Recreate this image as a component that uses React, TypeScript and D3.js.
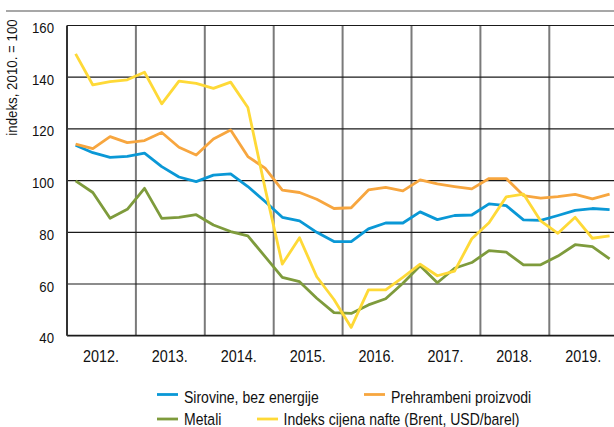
import React from "react";
import { scaleLinear, scaleBand, line } from "d3";

const years = ["2012.", "2013.", "2014.", "2015.", "2016.", "2017.", "2018.", "2019."];
const yTicks = [40, 60, 80, 100, 120, 140, 160];

// quarterly index values, 2012 Q1 .. 2019 Q4
const sirovine = [
  113.7, 110.8, 109.0, 109.4, 110.6, 105.4, 101.4, 99.6,
  102.1, 102.6, 97.7, 91.9, 85.8, 84.4, 80.0, 76.4,
  76.4, 81.3, 83.6, 83.6, 87.9, 84.9, 86.5, 86.7,
  91.0, 90.3, 84.8, 84.6, 86.5, 88.5, 89.2, 88.8,
];
const prehrambeni = [
  114.1, 112.4, 117.0, 114.7, 115.5, 118.6, 112.9, 109.9,
  116.1, 119.6, 109.3, 104.8, 96.3, 95.4, 92.8, 89.2,
  89.5, 96.4, 97.4, 96.0, 100.3, 98.7, 97.7, 96.8,
  100.8, 100.8, 94.2, 93.2, 93.8, 94.7, 92.9, 94.8,
];
const metali = [
  99.9, 95.4, 85.4, 88.9, 97.0, 85.4, 85.8, 86.8,
  82.8, 80.3, 78.6, 70.6, 62.6, 60.9, 54.5, 48.9,
  48.6, 51.9, 54.3, 60.3, 67.1, 60.5, 66.1, 68.3,
  72.9, 72.3, 67.4, 67.4, 70.8, 75.2, 74.5, 69.7,
];
const nafta = [
  149.0, 137.0, 138.3, 139.0, 141.9, 129.7, 138.5, 137.6,
  135.7, 138.1, 128.3, 97.0, 67.7, 77.9, 62.8, 54.0,
  43.2, 57.7, 57.7, 62.6, 67.7, 63.2, 65.0, 77.5,
  83.7, 93.7, 94.8, 84.4, 79.6, 85.8, 77.7, 78.6,
];

const series = [
  { name: "Sirovine, bez energije", values: sirovine, color: "#0a98d6" },
  { name: "Prehrambeni proizvodi", values: prehrambeni, color: "#f7a63f" },
  { name: "Metali", values: metali, color: "#7e9b3c" },
  { name: "Indeks cijena nafte (Brent, USD/barel)", values: nafta, color: "#fed937" },
];

const W = 614;
const H = 427;
const left = 67;
const right = 618.2;
const top = 25.5;
const bottom = 335.7;

// condensed-looking text: regular sans squeezed horizontally
function NText(props: {
  x: number;
  y: number;
  size: number;
  sx: number;
  anchor?: string;
  rotate?: number;
  children: React.ReactNode;
}) {
  const { x, y, size, sx, anchor, rotate, children } = props;
  return (
    <text
      transform={`translate(${x},${y})${rotate ? ` rotate(${rotate})` : ""} scale(${sx},1)`}
      fontSize={size}
      textAnchor={anchor ?? "start"}
      fill="#111"
    >
      {children}
    </text>
  );
}

export default function App() {
  const x = scaleLinear().domain([0, 32]).range([left, right]);
  const xBand = scaleBand().domain(years).range([left, right]);
  const y = scaleLinear().domain([40, 160]).range([bottom, top]);

  const path = line<number>()
    .x((_, i) => x(i + 0.5))
    .y((d) => y(d));

  const legend = [
    { s: series[0], lx: 157, ly: 394.5, tx: 184, ty: 402.5 },
    { s: series[1], lx: 364, ly: 394.5, tx: 391, ty: 402.5 },
    { s: series[2], lx: 157, ly: 419, tx: 184, ty: 424.5 },
    { s: series[3], lx: 257, ly: 419, tx: 283.5, ty: 424.5 },
  ];

  return (
    <svg
      width={W}
      height={H}
      style={{ position: "absolute", left: 0, top: 0, background: "#fff" }}
      fontFamily="'Liberation Sans', Arial, sans-serif"
    >
      <line x1={6} x2={W} y1={11} y2={11} stroke="#8a8a8a" strokeWidth={1.5} />

      {/* vertical year gridlines */}
      {years.slice(1).map((yr) => (
        <line
          key={yr}
          x1={xBand(yr)}
          x2={xBand(yr)}
          y1={top}
          y2={bottom}
          stroke="#7a7a7a"
          strokeWidth={2}
        />
      ))}

      {/* horizontal gridlines */}
      {yTicks.map((t) => (
        <line
          key={t}
          x1={left}
          x2={W}
          y1={y(t)}
          y2={y(t)}
          stroke="#1a1a1a"
          strokeWidth={t === 40 ? 1.8 : 1.2}
        />
      ))}
      <line x1={left} x2={left} y1={top} y2={bottom} stroke="#333" strokeWidth={2} />

      {yTicks.map((t) => (
        <NText key={t} x={54} y={y(t) + 7.5} size={15} sx={0.88} anchor="end">
          {t}
        </NText>
      ))}
      <NText x={17} y={77.5} size={14} sx={0.95} anchor="middle" rotate={-90}>
        indeks, 2010. = 100
      </NText>

      {years.map((yr) => (
        <NText
          key={yr}
          x={(xBand(yr) ?? 0) + xBand.bandwidth() / 2 - 0.5}
          y={362}
          size={16}
          sx={0.9}
          anchor="middle"
        >
          {yr}
        </NText>
      ))}

      {series.map((s) => (
        <path
          key={s.name}
          d={path(s.values) ?? ""}
          fill="none"
          stroke={s.color}
          strokeWidth={2.8}
          strokeLinejoin="round"
        />
      ))}

      {legend.map(({ s, lx, ly, tx, ty }) => (
        <g key={s.name}>
          <line x1={lx} x2={lx + 21} y1={ly} y2={ly} stroke={s.color} strokeWidth={2.8} />
          <NText x={tx} y={ty} size={16.5} sx={0.85}>
            {s.name}
          </NText>
        </g>
      ))}
    </svg>
  );
}
